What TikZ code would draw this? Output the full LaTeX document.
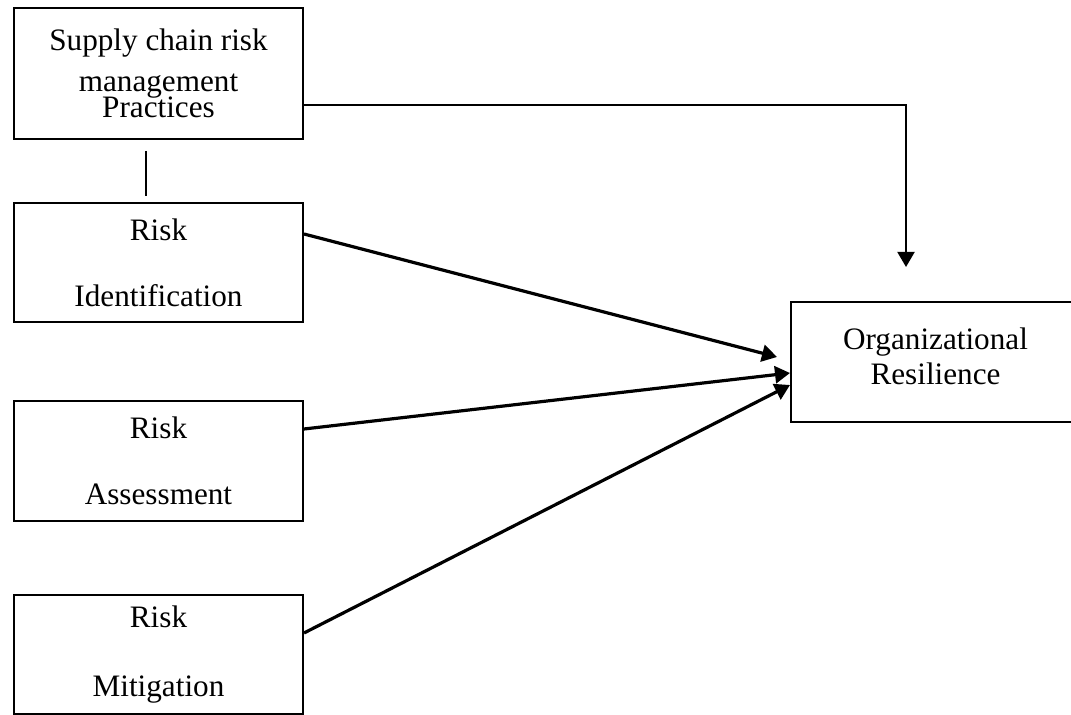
\documentclass[tikz,border=0pt]{standalone}
\usepackage{fontspec}
\setmainfont{Liberation Serif}
\usetikzlibrary{arrows.meta,positioning}

\begin{document}
\begin{tikzpicture}[
    x=0.5pt, y=-0.5pt,
    block/.style={draw, line width=1pt, minimum width=144.5pt, minimum height=60pt,
        align=center, font=\fontsize{15.6}{20.5}\selectfont},
    link/.style={line width=1.6pt, -{Triangle[length=7.5pt,width=8.5pt]}}
]
\useasboundingbox (0,0) rectangle (1071,715);
\node[block, minimum height=65.5pt] (spm) at (158.5,73.5) {Supply chain risk\\management\\[-7.5pt]Practices};
\node[block, minimum height=59.5pt] (ident) at (158.5,262.5) {Risk\\[12.5pt]Identification};
\node[block] (assess) at (158.5,461) {Risk\\[12.5pt]Assessment};
\node[block, minimum height=59.5pt] (mitig) at (158.5,654.5) {Risk\\[14pt]Mitigation};
\node[block, text depth=6pt] (org) at (935.5,362) {Organizational\\[-3pt]Resilience};

\coordinate (v1) at (146,151);
\coordinate (v2) at (146,196);
\coordinate (drop) at (906,267);
\coordinate (hitA) at (777,357);

\draw[line width=0.7pt] (v1) -- (v2);
\draw[line width=1pt, -{Triangle[length=7.5pt,width=8.5pt]}] (spm.east |- 0,105) -| (drop);
\draw[link] (ident.east |- 0,234) -- (hitA);
\draw[link] (assess.east |- 0,429) -- (org.west |- 0,373);
\draw[link] (mitig.east |- 0,633) -- (org.west |- 0,385);
\end{tikzpicture}
\end{document}
